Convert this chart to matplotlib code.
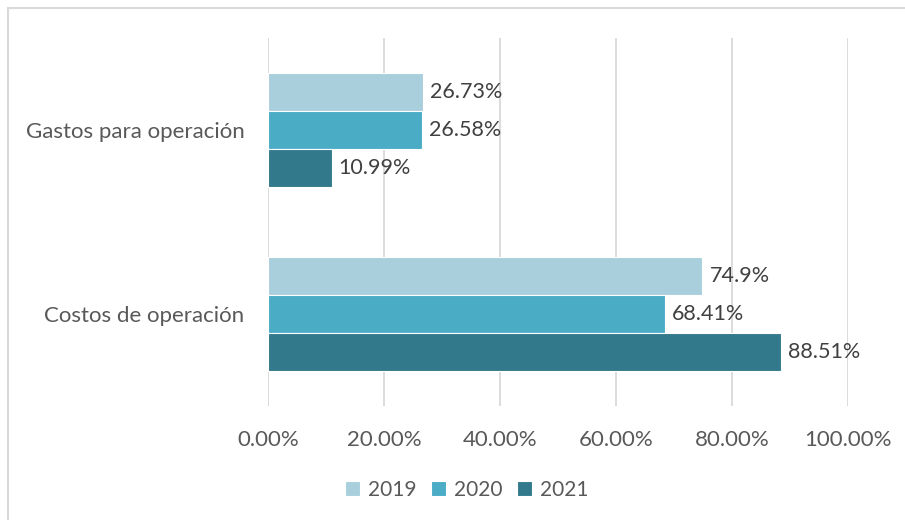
import matplotlib as mat
mat.use('Agg')
import matplotlib.pyplot as plt
from matplotlib.patches import Rectangle
import numpy as np

# data
categories = ['Costos de operación', 'Gastos para operación']
years = ['2019', '2020', '2021']
v2019 = [74.9, 26.73]
v2020 = [68.41, 26.58]
v2021 = [88.51, 10.99]
labels2019 = ['74.9%', '26.73%']
labels2020 = ['68.41%', '26.58%']
labels2021 = ['88.51%', '10.99%']
xticks = [0, 20, 40, 60, 80, 100]

colors = ['#A9CFDD', '#4BACC6', '#31798B']
plt.rcParams['font.family'] = ['Lato', 'DejaVu Sans']

fig = plt.figure(figsize=(9.05, 5.2), dpi=100)
ax = fig.add_axes([268 / 905, 1 - 406 / 520, 580 / 905, 368 / 520])

# light frame around the chart, only top and left edges visible
fig.patches.append(Rectangle((8 / 905, -0.1), 1.2, 1 - 8 / 520 + 0.1,
                             transform=fig.transFigure, fill=False,
                             edgecolor='#D9D9D9', linewidth=1.5))

y = np.arange(len(categories))
h = 0.2077
series = [(v2019, labels2019), (v2020, labels2020), (v2021, labels2021)]
for i, (vals, labs) in enumerate(series):
    pos = y + h - i * h
    bars = ax.barh(pos, vals, height=h, color=colors[i], edgecolor='white',
                   linewidth=0.8, label=years[i], zorder=3)
    for b, lab in zip(bars, labs):
        ax.text(b.get_width() + 1.2, b.get_y() + b.get_height() / 2, lab,
                va='center', ha='left', fontsize=15.5, color='#404040')

ax.set_xlim(0, 100)
ax.set_ylim(-0.5, 1.5)
ax.set_xticks(xticks)
ax.set_xticklabels(['%.2f%%' % t for t in xticks])
ax.set_yticks(y)
ax.set_yticklabels(categories)
ax.grid(axis='x', color='#D9D9D9', linewidth=1.3, zorder=0)
for s in ax.spines.values():
    s.set_visible(False)
ax.tick_params(axis='both', length=0, labelsize=16, colors='#595959')
ax.tick_params(axis='x', pad=17)
ax.tick_params(axis='y', pad=17)

leg = fig.legend(loc='center', bbox_to_anchor=(467 / 905, 1 - 490 / 520), ncol=3,
                 frameon=False, fontsize=15, handlelength=0.7, handleheight=0.7,
                 handletextpad=0.4, columnspacing=0.7)
for t in leg.get_texts():
    t.set_color('#595959')

fig.savefig('out.png', dpi=100)
